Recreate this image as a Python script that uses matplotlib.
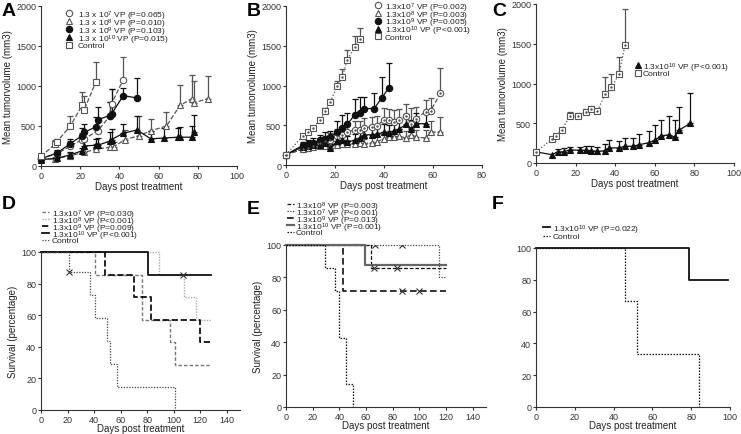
import numpy as np
import matplotlib
matplotlib.use("Agg")
import matplotlib.pyplot as plt
from matplotlib.lines import Line2D

plt.rcParams["font.family"] = ["Liberation Sans", "DejaVu Sans"]
plt.rcParams["mathtext.fontset"] = "custom"
plt.rcParams["mathtext.rm"] = "Liberation Sans"
plt.rcParams["mathtext.default"] = "regular"

# ---- Panel A: tumour growth ----
a_ctrl_days = [0, 7, 8, 15, 21, 22, 28]
a_ctrl = [120, 270, 300, 500, 760, 700, 1050]
a_ctrl_err = [0, 50, 40, 130, 160, 180, 250]
a7_days = [0, 8, 15, 21, 22, 29, 35, 36, 42]
a7 = [100, 150, 250, 330, 340, 440, 620, 780, 1080]
a7_err = [0, 30, 60, 80, 90, 150, 180, 180, 280]
a8_days = [0, 7, 15, 22, 28, 35, 37, 43, 50, 56, 64, 71, 77, 78, 85]
a8 = [90, 90, 130, 170, 210, 235, 240, 330, 380, 440, 500, 760, 840, 790, 840]
a8_err = [0, 20, 30, 40, 60, 60, 60, 120, 240, 150, 180, 250, 300, 270, 280]
a9_days = [0, 8, 15, 21, 22, 28, 29, 35, 36, 42, 49]
a9 = [90, 160, 280, 380, 420, 490, 580, 630, 650, 880, 850]
a9_err = [0, 40, 60, 90, 110, 120, 160, 170, 310, 100, 250]
a10_days = [0, 8, 15, 21, 22, 28, 29, 35, 36, 42, 49, 56, 63, 70, 71, 77, 78]
a10 = [80, 95, 140, 190, 250, 260, 260, 310, 330, 410, 450, 340, 350, 360, 360, 360, 430]
a10_err = [0, 20, 30, 40, 60, 80, 90, 120, 130, 120, 170, 100, 120, 110, 130, 140, 210]
a_labels = ["1.3 x 10$^{7}$ VP (P=0.065)", "1.3 x 10$^{8}$ VP (P=0.010)",
            "1.3 x 10$^{9}$ VP (P=0.103)", "1.3 x 10$^{10}$ VP (P=0.015)", "Control"]

# ---- Panel B ----
b_ctrl_days = [0, 7, 9, 11, 14, 16, 18, 21, 23, 25, 28, 30]
b_ctrl = [130, 370, 410, 470, 570, 680, 790, 1000, 1110, 1320, 1480, 1590]
b_ctrl_err = [0, 0, 0, 0, 0, 40, 0, 60, 100, 130, 140, 130]
b_days = [0, 7, 9, 11, 14, 16, 18, 21, 23, 25, 28, 30, 32, 35, 37, 40, 42, 44, 46, 49, 51, 53, 57, 59, 63]
b7 = [130, 200, 220, 240, 280, 300, 320, 360, 380, 420, 440, 440, 470, 480, 490, 570, 560, 540, 570, 620, 520, 580, 670, 680, 900]
b7_err = [0, 30, 40, 50, 60, 70, 80, 90, 100, 100, 110, 110, 120, 130, 130, 150, 140, 150, 140, 150, 200, 150, 150, 160, 320]
b8 = [130, 200, 220, 230, 240, 240, 240, 250, 270, 270, 260, 280, 270, 280, 290, 330, 350, 350, 360, 340, 380, 350, 340, 410, 420]
b8_err = [0, 30, 30, 30, 40, 40, 40, 50, 50, 50, 50, 60, 60, 70, 70, 80, 80, 80, 90, 90, 90, 90, 100, 140, 180]
b9_days = [0, 7, 9, 11, 14, 16, 18, 21, 23, 25, 28, 30, 32, 36, 39, 42]
b9 = [130, 250, 270, 280, 310, 330, 350, 420, 470, 510, 630, 650, 710, 710, 840, 970]
b9_err = [0, 40, 50, 60, 70, 80, 80, 130, 160, 150, 200, 200, 140, 190, 270, 310]
b10_days = [0, 7, 9, 11, 14, 16, 18, 21, 23, 25, 28, 30, 32, 35, 37, 40, 42, 44, 46, 49, 51, 53, 57]
b10 = [130, 230, 240, 250, 250, 280, 210, 300, 310, 290, 310, 340, 380, 380, 390, 410, 400, 430, 450, 510, 450, 520, 520]
b10_err = [0, 40, 40, 50, 50, 60, 60, 70, 70, 70, 80, 80, 90, 90, 100, 100, 100, 110, 110, 130, 120, 130, 140]
b_labels = ["1.3x10$^{7}$ VP (P=0.002)", "1.3x10$^{8}$ VP (P=0.003)",
            "1.3x10$^{9}$ VP (P=0.005)", "1.3x10$^{10}$ VP (P<0.001)", "Control"]

# ---- Panel C ----
c_ctrl_days = [0, 8, 10, 13, 17, 21, 25, 28, 31, 35, 38, 42, 45]
c_ctrl = [140, 300, 345, 420, 585, 590, 645, 680, 655, 870, 950, 1120, 1490]
c_ctrl_err = [0, 0, 0, 0, 60, 40, 40, 40, 0, 210, 170, 210, 450]
c10_days = [0, 8, 11, 14, 17, 22, 25, 28, 31, 35, 37, 42, 45, 49, 52, 57, 60, 63, 67, 70, 72, 78]
c10 = [140, 105, 140, 140, 165, 160, 160, 155, 145, 155, 190, 190, 210, 210, 230, 255, 285, 340, 355, 325, 410, 500]
c10_err = [0, 0, 30, 45, 40, 40, 60, 60, 60, 80, 100, 90, 110, 100, 140, 150, 190, 200, 230, 210, 300, 380]
c_labels = ["1.3x10$^{10}$ VP (P<0.001)", "Control"]

# ---- Panel D: survival ----
d7_t = [0, 41, 76, 97, 101, 128]
d7_s = [100, 85.7, 57.1, 42.9, 28.6, 28.6]
d8_t = [0, 89, 108, 117, 128]
d8_s = [100, 85.7, 71.4, 57.1, 57.1]
d9_t = [0, 48, 70, 83, 120, 128]
d9_s = [100, 85.7, 71.4, 57.1, 42.9, 42.9]
d10_t = [0, 81, 128]
d10_s = [100, 85.7, 85.7]
d_ctrl_t = [0, 21, 37, 41, 50, 52, 57, 101]
d_ctrl_s = [100, 87.5, 72.9, 58.3, 43.75, 29.2, 14.6, 0]
d_cens_t = [21, 107]
d_cens_s = [87.5, 85.7]
d_labels = ["1.3x10$^{7}$ VP (P=0.030)", "1.3x10$^{8}$ VP (P<0.001)",
            "1.3x10$^{9}$ VP (P=0.009)", "1.3x10$^{10}$ VP (P<0.001)", "Control"]

# ---- Panel E ----
e8_t = [0, 64, 120]
e8_s = [100, 85.7, 85.7]
e7_t = [0, 115, 120]
e7_s = [100, 80, 80]
e9_t = [0, 43, 120]
e9_s = [100, 71.4, 71.4]
e10_t = [0, 59, 120]
e10_s = [100, 87.5, 87.5]
e_ctrl_t = [0, 29, 37, 40, 45, 50]
e_ctrl_s = [100, 85.7, 71.4, 42.9, 14.3, 0]
e_cens_t = [66, 83, 67, 87, 87, 100]
e_cens_s = [85.7, 85.7, 100, 100, 71.4, 71.4]
e_labels = ["1.3x10$^{8}$ VP (P=0.003)", "1.3x10$^{7}$ VP (P<0.001)",
            "1.3x10$^{9}$ VP (P=0.013)", "1.3x10$^{10}$ VP (P=0.001)", "Control"]

# ---- Panel F ----
f10_t = [0, 79, 99]
f10_s = [100, 80, 80]
f_ctrl_t = [0, 46, 52, 84]
f_ctrl_s = [100, 66.7, 33.3, 0]
f_labels = ["1.3x10$^{10}$ VP (P=0.022)", "Control"]

W, H = 741, 435
fig = plt.figure(figsize=(W / 100, H / 100), dpi=100)


def px_axes(left, top, right, bottom):
    return fig.add_axes([left / W, 1 - bottom / H, (right - left) / W, (bottom - top) / H])


def style(ax, xmax, xstep, ymax, ystep, ylabel, xpad=0.5):
    for s in ["top", "right"]:
        ax.spines[s].set_visible(False)
    for s in ["left", "bottom"]:
        ax.spines[s].set_linewidth(0.8)
        ax.spines[s].set_color("#333333")
    ax.set_xlim(0, xmax)
    ax.set_ylim(0, ymax)
    ax.set_xticks(np.arange(0, xmax + 1, xstep))
    ax.set_yticks(np.arange(0, ymax + 1, ystep))
    ax.tick_params(labelsize=6.5, length=2.5, width=0.8, colors="#333333", pad=1)
    ax.set_xlabel("Days post treatment", fontsize=7, color="#222222", labelpad=xpad)
    if ylabel:
        ax.set_ylabel(ylabel, fontsize=7, color="#222222", labelpad=2)


def growth(ax, days, vals, errs, marker, filled, ls, color, dot=False):
    days = np.array(days)
    vals = np.array(vals)
    errs = np.array(errs)
    m = errs > 0
    ax.errorbar(days[m], vals[m], yerr=[np.zeros(m.sum()), errs[m]], fmt="none",
                ecolor=color, elinewidth=0.9, capsize=2.2, capthick=0.9, zorder=2)
    face = color if filled else "white"
    ms = 4.6 if marker != "s" else 4.4
    ax.plot(days, vals, ls=ls, color=color, lw=0.9, marker=marker, ms=ms,
            mfc=face, mec=color, mew=0.8, zorder=3, clip_on=False)
    if dot:
        ax.plot(days, vals, ls="none", marker=".", ms=1.5, color=color, zorder=4, clip_on=False)
    return Line2D([], [], ls="none", marker=marker, ms=ms, mfc=face, mec=color, mew=0.8)


def manual_legend(handles, labels, x_handle, x_text, rows, line_handle=False):
    # legend drawn in figure pixels, so row spacing can be as tight as the original
    for src, lab, y in zip(handles, labels, rows):
        yf = 1 - y / H
        if line_handle:
            h = Line2D([x_handle / W, (x_handle + 7) / W], [yf, yf])
        else:
            h = Line2D([x_handle / W], [yf])
        h.update_from(src)
        h.set_drawstyle("default")
        h.set_transform(fig.transFigure)
        h.set_clip_on(False)
        fig.add_artist(h)
        fig.text(x_text / W, yf, lab, fontsize=6, color="#222222", va="center_baseline", ha="left")


gray = "#555555"
blk = "#111111"

# A
ax = px_axes(41, 7, 237, 167)
style(ax, 100, 20, 2000, 500, "Mean tumorvolume (mm3)")
h = [growth(ax, a7_days, a7, a7_err, "o", False, "--", gray),
     growth(ax, a8_days, a8, a8_err, "^", False, "--", gray),
     growth(ax, a9_days, a9, a9_err, "o", True, "-", blk),
     growth(ax, a10_days, a10, a10_err, "^", True, "-", blk),
     growth(ax, a_ctrl_days, a_ctrl, a_ctrl_err, "s", False, "--", gray)]
manual_legend(h, a_labels, 69, 78, [14, 22, 30, 38, 45.5])

# B
ax = px_axes(286, 7, 482, 166)
style(ax, 80, 20, 2000, 500, "Mean tumorvolume (mm3)")
h = [growth(ax, b_days, b7, b7_err, "o", False, "--", gray, dot=True),
     growth(ax, b_days, b8, b8_err, "^", False, "--", gray),
     growth(ax, b9_days, b9, b9_err, "o", True, "-", blk),
     growth(ax, b10_days, b10, b10_err, "^", True, "-", blk),
     growth(ax, b_ctrl_days, b_ctrl, b_ctrl_err, "s", False, ":", gray, dot=True)]
manual_legend(h, b_labels, 378, 385, [6, 14, 21.5, 29.5, 37])

# C
ax = px_axes(536, 5, 734, 164)
style(ax, 100, 20, 2000, 500, "Mean tumorvolume (mm3)")
h = [growth(ax, c10_days, c10, c10_err, "^", True, "-", blk),
     growth(ax, c_ctrl_days, c_ctrl, c_ctrl_err, "s", False, ":", gray, dot=True)]
manual_legend(h, c_labels, 638, 643, [66, 73.5])

# D
ax = px_axes(41, 253, 240, 411)
style(ax, 150, 20, 100, 20, "Survival (percentage)", xpad=-0.5)
ax.set_xticks(np.arange(0, 141, 20))
l7, = ax.step(d7_t, d7_s, where="post", color="#777777", lw=1.0, ls=(0, (2.5, 1.5)))
l8, = ax.step(d8_t, d8_s, where="post", color="#aaaaaa", lw=1.0, ls=(0, (1, 1)))
l9, = ax.step(d9_t, d9_s, where="post", color=blk, lw=1.3, ls=(0, (3.5, 1.5)))
l10, = ax.step(d10_t, d10_s, where="post", color=blk, lw=1.3)
lc, = ax.step(d_ctrl_t, d_ctrl_s, where="post", color="#444444", lw=0.9, ls=(0, (1, 1.2)))
ax.plot(d_cens_t, d_cens_s, ls="none", marker="x", ms=4, mew=0.8, color="#333333")
for l in [l7, l8, l9, l10, lc]:
    l.set_clip_on(False)
manual_legend([l7, l8, l9, l10, lc], d_labels, 42, 52, [213, 220, 227, 234, 241], line_handle=True)

# E
ax = px_axes(286, 246, 486, 408)
style(ax, 150, 20, 100, 20, "Survival (percentage)", xpad=-0.5)
ax.set_xticks(np.arange(0, 141, 20))
e8l, = ax.step(e8_t, e8_s, where="post", color=blk, lw=0.9, ls=(0, (3, 1.5)))
e7l, = ax.step(e7_t, e7_s, where="post", color="#444444", lw=0.9, ls=(0, (1, 1.2)))
e9l, = ax.step(e9_t, e9_s, where="post", color=blk, lw=1.2, ls=(0, (4, 2)))
e10l, = ax.step(e10_t, e10_s, where="post", color="#666666", lw=1.6)
ecl, = ax.step(e_ctrl_t, e_ctrl_s, where="post", color=blk, lw=0.9, ls=(0, (1.2, 1.2)))
ax.plot(e_cens_t, e_cens_s, ls="none", marker="x", ms=4, mew=0.8, color="#333333")
for l in [e8l, e7l, e9l, e10l, ecl]:
    l.set_clip_on(False)
manual_legend([e8l, e7l, e9l, e10l, ecl], e_labels, 287, 296, [205, 212, 219, 226, 233], line_handle=True)

# F
ax = px_axes(536, 249, 730, 408)
style(ax, 100, 20, 100, 20, None, xpad=-0.5)
f1, = ax.step(f10_t, f10_s, where="post", color=blk, lw=1.3)
f2, = ax.step(f_ctrl_t, f_ctrl_s, where="post", color=blk, lw=0.9, ls=(0, (1.2, 1.2)))
for l in [f1, f2]:
    l.set_clip_on(False)
manual_legend([f1, f2], f_labels, 543, 553, [228, 237], line_handle=True)

# panel letters
for lab, x, y in [("A", 2, 3), ("B", 247, 3), ("C", 492, 3), ("D", 2, 196), ("E", 247, 201), ("F", 492, 196)]:
    fig.text(x / W, 1 - y / H, lab, fontsize=14, fontweight="bold", va="top", ha="left")

fig.savefig("out.png", dpi=100)
